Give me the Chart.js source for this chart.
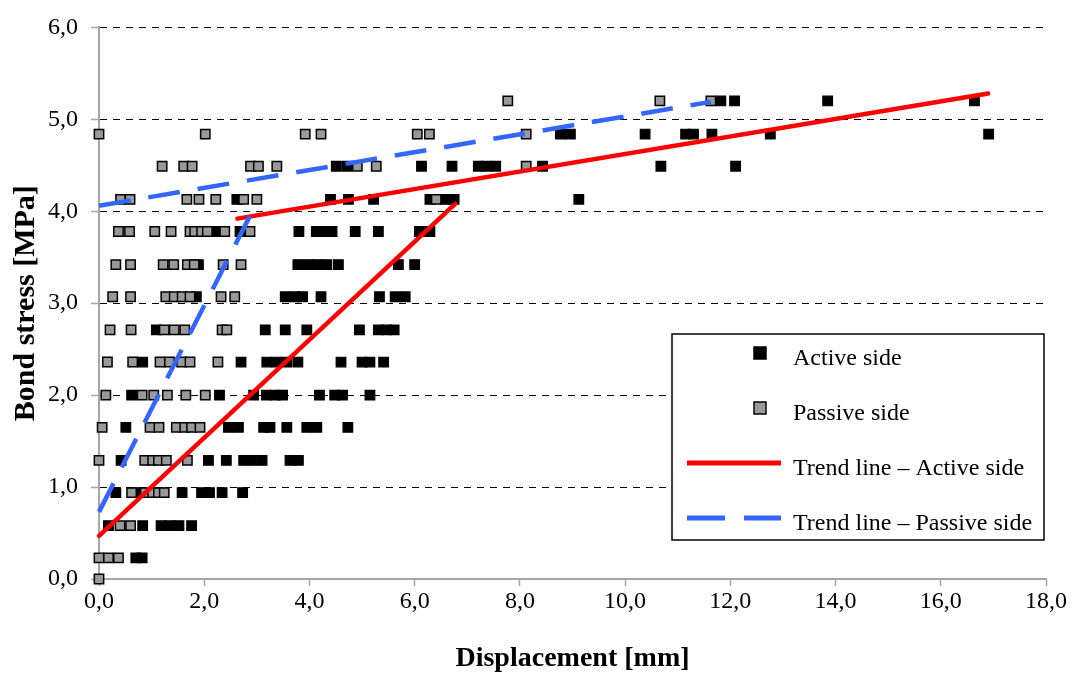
<!DOCTYPE html>
<html>
<head>
<meta charset="utf-8">
<title>Bond stress - displacement</title>
<script src="https://cdn.jsdelivr.net/npm/chart.js@4.4.0/dist/chart.umd.min.js"></script>
<style>
  html, body { margin: 0; padding: 0; background: #fff; }
</style>
</head>
<body>
<canvas id="bondChart" width="1072" height="676"></canvas>
<script>
// values (x = displacement [mm], y = bond stress [MPa])
const activeX = [
  0.70, 0.82,
  0.18, 0.83, 1.18, 1.35, 1.52, 1.76,
  0.32, 0.75, 1.58, 1.95, 2.10, 2.34, 2.73,
  0.42, 2.08, 2.42, 2.75, 2.91, 3.10, 3.63, 3.79,
  0.51, 2.46, 2.65, 3.13, 3.25, 3.57, 3.95, 4.14, 4.73,
  0.62, 2.29, 2.94, 3.18, 3.35, 3.49, 4.19, 4.48, 4.63, 5.15,
  0.83, 2.70, 3.19, 3.38, 3.57, 3.78, 4.60, 5.00, 5.15, 5.41,
  1.09, 3.16, 3.54, 3.95, 4.95, 5.31, 5.47, 5.61,
  1.85, 3.54, 3.72, 3.87, 4.22, 5.33, 5.63, 5.82,
  1.89, 3.78, 3.97, 4.15, 4.33, 4.55, 5.69, 6.00,
  2.21, 2.68, 3.80, 4.13, 4.25, 4.43, 4.87, 5.31, 6.09, 6.29,
  2.62, 4.40, 4.74, 5.22, 6.29, 6.57, 6.75, 9.12,
  4.51, 4.71, 6.13, 6.71, 7.21, 7.36, 7.54, 8.43, 10.68, 12.10,
  8.77, 8.96, 10.38, 11.15, 11.30, 11.65, 12.76, 16.91,
  11.82, 12.08, 13.85, 16.64
];
const activeY = [
  0.23, 0.23,
  0.58, 0.58, 0.58, 0.58, 0.58, 0.58,
  0.94, 0.94, 0.94, 0.94, 0.94, 0.94, 0.94,
  1.29, 1.29, 1.29, 1.29, 1.29, 1.29, 1.29, 1.29,
  1.65, 1.65, 1.65, 1.65, 1.65, 1.65, 1.65, 1.65, 1.65,
  2.00, 2.00, 2.00, 2.00, 2.00, 2.00, 2.00, 2.00, 2.00, 2.00,
  2.36, 2.36, 2.36, 2.36, 2.36, 2.36, 2.36, 2.36, 2.36, 2.36,
  2.71, 2.71, 2.71, 2.71, 2.71, 2.71, 2.71, 2.71,
  3.07, 3.07, 3.07, 3.07, 3.07, 3.07, 3.07, 3.07,
  3.42, 3.42, 3.42, 3.42, 3.42, 3.42, 3.42, 3.42,
  3.78, 3.78, 3.78, 3.78, 3.78, 3.78, 3.78, 3.78, 3.78, 3.78,
  4.13, 4.13, 4.13, 4.13, 4.13, 4.13, 4.13, 4.13,
  4.49, 4.49, 4.49, 4.49, 4.49, 4.49, 4.49, 4.49, 4.49, 4.49,
  4.84, 4.84, 4.84, 4.84, 4.84, 4.84, 4.84, 4.84,
  5.20, 5.20, 5.20, 5.20
];

const passiveX = [
  0.00,
  0.00, 0.18, 0.37,
  0.40, 0.60,
  0.62, 0.88, 1.02, 1.13, 1.24,
  0.00, 0.87, 1.02, 1.13, 1.28, 1.68,
  0.06, 0.97, 1.14, 1.47, 1.63, 1.76, 1.92,
  0.13, 0.82, 1.04, 1.30, 1.65, 2.02,
  0.16, 0.64, 1.16, 1.34, 1.57, 1.73, 2.26,
  0.21, 0.61, 1.24, 1.43, 1.63, 2.34, 2.43,
  0.26, 0.60, 1.27, 1.43, 1.58, 1.73, 2.32, 2.58,
  0.32, 0.60, 1.22, 1.42, 1.68, 1.81, 2.36, 2.70,
  0.37, 0.58, 1.06, 1.37, 1.73, 1.82, 1.95, 2.06, 2.39, 2.87,
  0.41, 0.59, 1.67, 1.90, 2.22, 2.75, 3.00, 6.41,
  1.20, 1.61, 1.77, 2.88, 3.03, 3.38, 4.91, 5.27, 8.12,
  0.00, 2.02, 3.92, 4.22, 6.05, 6.28, 8.12,
  7.77, 10.66, 11.63
];
const passiveY = [
  0.00,
  0.23, 0.23, 0.23,
  0.58, 0.58,
  0.94, 0.94, 0.94, 0.94, 0.94,
  1.29, 1.29, 1.29, 1.29, 1.29, 1.29,
  1.65, 1.65, 1.65, 1.65, 1.65, 1.65, 1.65,
  2.00, 2.00, 2.00, 2.00, 2.00, 2.00,
  2.36, 2.36, 2.36, 2.36, 2.36, 2.36, 2.36,
  2.71, 2.71, 2.71, 2.71, 2.71, 2.71, 2.71,
  3.07, 3.07, 3.07, 3.07, 3.07, 3.07, 3.07, 3.07,
  3.42, 3.42, 3.42, 3.42, 3.42, 3.42, 3.42, 3.42,
  3.78, 3.78, 3.78, 3.78, 3.78, 3.78, 3.78, 3.78, 3.78, 3.78,
  4.13, 4.13, 4.13, 4.13, 4.13, 4.13, 4.13, 4.13,
  4.49, 4.49, 4.49, 4.49, 4.49, 4.49, 4.49, 4.49, 4.49,
  4.84, 4.84, 4.84, 4.84, 4.84, 4.84, 4.84,
  5.20, 5.20, 5.20
];

// two-part trend lines, null breaks the line
const trendActiveX = [0, 6.77, 6.77, 2.63, 16.9];
const trendActiveY = [0.47, 4.08, null, 3.92, 5.28];
const trendPassiveX = [0, 2.87, 2.87, 0, 11.63];
const trendPassiveY = [0.73, 3.95, null, 4.06, 5.19];

const xTickLabels = ['0,0', '2,0', '4,0', '6,0', '8,0', '10,0', '12,0', '14,0', '16,0', '18,0'];
const yTickLabels = ['0,0', '1,0', '2,0', '3,0', '4,0', '5,0', '6,0'];

const seriesNames = ['Active side', 'Passive side', 'Trend line \u2013 Active side', 'Trend line \u2013 Passive side'];

function toPoints(xs, ys) {
  return xs.map((x, i) => ({ x: x, y: ys[i] }));
}

const serif = "'Liberation Serif', 'Times New Roman', serif";
const axisGray = '#a6a6a6';

// legend drawn inside the plot, bottom right, like the original
const boxLegend = {
  id: 'boxLegend',
  afterDraw(chart) {
    const ctx = chart.ctx;
    const left = 672, top = 334, w = 372, h = 206;
    ctx.save();
    ctx.fillStyle = '#fff';
    ctx.fillRect(left, top, w, h);
    ctx.lineWidth = 1.5;
    ctx.strokeStyle = '#000';
    ctx.strokeRect(left, top, w, h);

    const baselines = [365, 420, 475, 530];
    ctx.font = '24px ' + serif;
    ctx.textBaseline = 'alphabetic';
    ctx.textAlign = 'left';
    chart.data.datasets.forEach((ds, i) => {
      const yb = baselines[i];
      const ym = yb - 11;
      if (ds.showLine) {
        ctx.save();
        ctx.strokeStyle = ds.borderColor;
        ctx.lineWidth = 5;
        ctx.setLineDash(ds.borderDash ? [38, 19] : []);
        ctx.beginPath();
        ctx.moveTo(687, ym - 1);
        ctx.lineTo(781, ym - 1);
        ctx.stroke();
        ctx.restore();
      } else {
        ctx.fillStyle = ds.backgroundColor;
        ctx.fillRect(754, ym - 7, 12, 12);
        ctx.lineWidth = 1.5;
        ctx.strokeStyle = ds.borderColor;
        ctx.strokeRect(754, ym - 7, 12, 12);
      }
      ctx.fillStyle = '#000';
      ctx.fillText(ds.label, 793, yb);
    });
    ctx.restore();
  }
};

const ctx = document.getElementById('bondChart').getContext('2d');

new Chart(ctx, {
  type: 'scatter',
  data: {
    datasets: [
      {
        label: seriesNames[0],
        data: toPoints(activeX, activeY),
        pointStyle: 'rect',
        pointRadius: 6.8,
        pointHoverRadius: 6.8,
        backgroundColor: '#000',
        borderColor: '#000',
        borderWidth: 1.2,
        clip: false,
        order: 3
      },
      {
        label: seriesNames[1],
        data: toPoints(passiveX, passiveY),
        pointStyle: 'rect',
        pointRadius: 6.6,
        pointHoverRadius: 6.6,
        backgroundColor: '#999999',
        borderColor: '#000',
        borderWidth: 1.5,
        clip: false,
        order: 2
      },
      {
        label: seriesNames[2],
        data: toPoints(trendActiveX, trendActiveY),
        showLine: true,
        spanGaps: false,
        pointRadius: 0,
        borderColor: '#ff0000',
        borderWidth: 4.5,
        borderCapStyle: 'round',
        clip: false,
        order: 1
      },
      {
        label: seriesNames[3],
        data: toPoints(trendPassiveX, trendPassiveY),
        showLine: true,
        spanGaps: false,
        pointRadius: 0,
        borderColor: '#3366ff',
        borderWidth: 4.5,
        borderDash: [32, 18],
        clip: false,
        order: 0
      }
    ]
  },
  options: {
    responsive: false,
    animation: false,
    layout: { padding: { top: 21, right: 26, left: 0, bottom: 0 } },
    plugins: {
      legend: { display: false },
      tooltip: { enabled: false }
    },
    scales: {
      x: {
        type: 'linear',
        min: 0,
        max: 18,
        afterFit: s => { s.height = 97; },
        ticks: {
          stepSize: 2,
          padding: 1,
          color: '#000',
          font: { family: serif, size: 24 },
          callback: (v, i) => xTickLabels[i]
        },
        grid: {
          drawOnChartArea: false,
          drawTicks: true,
          tickLength: 7,
          tickColor: axisGray,
          tickWidth: 1.5
        },
        border: { display: true, color: axisGray, width: 2 },
        title: {
          display: true,
          text: 'Displacement [mm]',
          color: '#000',
          font: { family: serif, size: 28, weight: 'bold' },
          padding: { top: 0, bottom: 0 }
        }
      },
      y: {
        type: 'linear',
        min: 0,
        max: 6,
        afterFit: s => { s.width = 99; },
        ticks: {
          stepSize: 1,
          padding: 13,
          color: '#000',
          font: { family: serif, size: 24 },
          callback: (v, i) => yTickLabels[i]
        },
        grid: {
          color: c => (c.tick && c.tick.value === 0 ? 'rgba(0,0,0,0)' : '#000'),
          lineWidth: 1,
          drawTicks: true,
          tickLength: 8,
          tickColor: axisGray,
          tickWidth: 1.5,
          tickBorderDash: []
        },
        border: { display: true, color: axisGray, width: 2, dash: [7, 6] },
        title: {
          display: true,
          text: 'Bond stress [MPa]',
          color: '#000',
          font: { family: serif, size: 30, weight: 'bold' },
          padding: { top: 8, bottom: 0 }
        }
      }
    }
  },
  plugins: [boxLegend]
});
</script>
</body>
</html>
